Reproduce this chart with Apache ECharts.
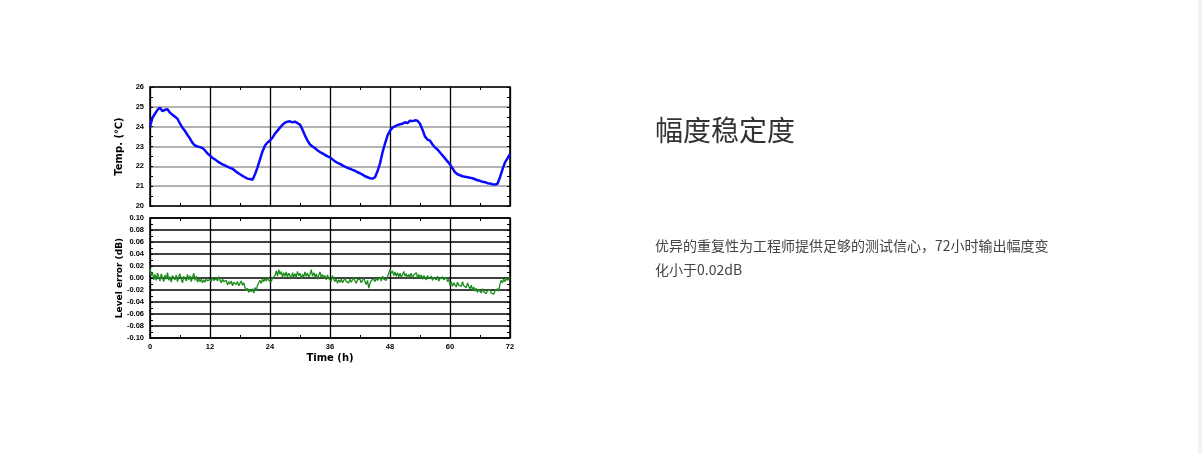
<!DOCTYPE html>
<html>
<head>
<meta charset="utf-8">
<script src="https://cdn.jsdelivr.net/npm/echarts@6/dist/echarts.min.js"></script>
<style>
html,body{margin:0;padding:0;background:#fff;}
#chart{width:1202px;height:454px;}
</style>
</head>
<body>
<div id="chart"></div>
<script>
// ---- data ----
const titleText = '幅度稳定度';
const descLines = ['优异的重复性为工程师提供足够的测试信心，72小时输出幅度变', '化小于0.02dB'];
const timeTicks = [0, 12, 24, 36, 48, 60, 72];
const tempTicks = [20, 21, 22, 23, 24, 25, 26];
const errTicks = [-0.10, -0.08, -0.06, -0.04, -0.02, 0.00, 0.02, 0.04, 0.06, 0.08, 0.10];
const tempStepH = 0.5;
const tempValues = [
  24.00, 24.45, 24.65, 24.85, 24.95, 24.78, 24.85, 24.88, 24.70, 24.60,
  24.50, 24.40, 24.15, 23.95, 23.78, 23.58, 23.40, 23.18, 23.05, 23.00,
  22.97, 22.92, 22.80, 22.65, 22.55, 22.42, 22.35, 22.25, 22.17, 22.10,
  22.05, 21.98, 21.92, 21.88, 21.78, 21.68, 21.60, 21.52, 21.45, 21.38,
  21.36, 21.32, 21.60, 21.95, 22.35, 22.75, 23.05, 23.20, 23.30, 23.45,
  23.65, 23.80, 23.95, 24.10, 24.20, 24.25, 24.27, 24.22, 24.25, 24.18,
  24.10, 23.85, 23.55, 23.30, 23.10, 23.00, 22.92, 22.80, 22.72, 22.65,
  22.58, 22.50, 22.45, 22.35, 22.25, 22.18, 22.12, 22.05, 21.98, 21.92,
  21.88, 21.82, 21.78, 21.70, 21.65, 21.58, 21.50, 21.45, 21.40, 21.38,
  21.45, 21.75, 22.15, 22.70, 23.15, 23.55, 23.80, 23.95, 24.02, 24.08,
  24.12, 24.15, 24.22, 24.18, 24.30, 24.28, 24.32, 24.30, 24.15, 23.85,
  23.50, 23.35, 23.30, 23.10, 22.95, 22.85, 22.70, 22.55, 22.40, 22.25,
  22.10, 21.90, 21.70, 21.60, 21.55, 21.50, 21.48, 21.45, 21.42, 21.40,
  21.35, 21.30, 21.27, 21.22, 21.20, 21.15, 21.13, 21.10, 21.08, 21.12,
  21.45, 21.85, 22.20, 22.40, 22.62
];
const errStepH = 0.25;
const errValues = [
  0.016, 0.004, 0.009, -0.003,   0.006, -0.004, 0.008, 0.001,
  -0.005, 0.007, 0.000, -0.006,  0.005, -0.002, 0.009, -0.004,
  0.002, -0.007, 0.004, 0.006,   -0.003, 0.005, -0.006, 0.002,
  0.007, -0.002, -0.008, 0.003,  0.000, -0.005, 0.006, -0.003,
  0.004, -0.006, 0.001, 0.008,   -0.004, 0.003, -0.007, -0.001,
  -0.006, -0.002, -0.008, -0.003, -0.007, -0.001, -0.005, -0.004,
  -0.002, -0.006, 0.001, -0.004, -0.007, -0.001, -0.005, 0.002,
  -0.004, -0.008, -0.002, -0.006, -0.009, -0.004, -0.012, -0.006,
  -0.010, -0.005, -0.013, -0.007, -0.004, -0.011, -0.006, -0.013,
  -0.009, -0.005, -0.012, -0.008, -0.016, -0.021, -0.017, -0.024,
  -0.019, -0.023, -0.018, -0.025, -0.016, -0.021, -0.012, -0.008,
  -0.004, -0.009, -0.002, -0.006, -0.001, -0.005, 0.001, -0.004,
  -0.002, -0.006, 0.000, -0.003, 0.004, 0.012, 0.003, 0.014,
  0.006, 0.011, 0.001, 0.009,    0.003, 0.010, 0.002, 0.008,
  0.004, -0.001, 0.009, 0.002,   0.007, 0.001, 0.011, 0.004,
  0.008, -0.001, 0.006, 0.002,   0.010, 0.003, 0.008, 0.001,
  0.006, 0.014, 0.003, 0.009,    0.002, 0.007, -0.002, 0.005,
  0.010, 0.001, 0.006, 0.000,    0.004, -0.003, 0.005, -0.001,
  0.002, -0.005, 0.004, -0.002,  -0.006, -0.001, -0.009, -0.003,
  -0.007, -0.002, -0.008, -0.004, 0.000, -0.006, -0.003, -0.008,
  -0.002, -0.007, -0.004, 0.001, -0.005, -0.009, -0.003, -0.006,
  -0.002, -0.008, -0.004, 0.000, -0.006, -0.011, -0.004, -0.017,
  -0.009, -0.004, -0.007, -0.002, -0.006, 0.000, -0.004, -0.001,
  0.001, -0.005, 0.003, -0.002,  0.000, -0.004, 0.002, 0.004,
  0.014, 0.008, 0.012, 0.004,    0.010, 0.003, 0.009, 0.002,
  0.008, 0.001, 0.006, 0.011,    0.003, 0.007, 0.000, 0.006,
  0.002, 0.008, -0.001, 0.005,   0.004, 0.009, 0.001, 0.006,
  0.000, 0.005, -0.002, 0.004,   0.001, -0.003, 0.004, -0.001,
  -0.002, 0.003, -0.004, 0.001,  0.002, -0.003, 0.003, -0.005,
  -0.001, -0.004, 0.002, -0.003, -0.003, 0.001, -0.006, -0.002,
  -0.012, -0.006, -0.014, -0.008, -0.011, -0.015, -0.007, -0.012,
  -0.009, -0.014, -0.006, -0.013, -0.010, -0.016, -0.008, -0.014,
  -0.018, -0.012, -0.020, -0.015, -0.022, -0.017, -0.024, -0.019,
  -0.021, -0.025, -0.018, -0.023, -0.020, -0.026, -0.021, -0.024,
  -0.019, -0.025, -0.022, -0.027, -0.021, -0.024, -0.018, -0.022,
  -0.010, -0.004, -0.008, -0.002, -0.006, 0.001, -0.004, -0.001,
  0.002
];

// ---- build ----
const tempData = tempValues.map((v, i) => [i * tempStepH, v]);
const errData = errValues.map((v, i) => [i * errStepH, v]);

const tickFont = { fontFamily: 'Liberation Sans', fontWeight: 'bold', fontSize: 7.5, color: '#000' };
const black = '#000';

function xAx(gridIndex, position, showLabel, name) {
  return {
    type: 'value', gridIndex, position,
    min: timeTicks[0], max: timeTicks[timeTicks.length - 1],
    interval: timeTicks[1] - timeTicks[0],
    axisLine: { show: true, onZero: false, lineStyle: { color: black, width: 1.5 } },
    axisTick: { show: true, inside: true, length: 3, lineStyle: { color: black, width: 1 } },
    minorTick: { show: true, splitNumber: 2, length: 3, lineStyle: { color: black, width: 1 } },
    axisLabel: Object.assign({ show: showLabel, margin: 5 }, tickFont),
    splitLine: { show: position === 'bottom', lineStyle: { color: black, width: 1.3 } },
    name: name || '',
    nameLocation: 'middle',
    nameGap: 15,
    nameMoveOverlap: false,
    nameTextStyle: { fontFamily: 'DejaVu Sans', fontWeight: 'bold', fontSize: 10, color: '#000' }
  };
}
function yAx(gridIndex, position, ticks, showLabel, splitColor, digits, name, nameSize) {
  return {
    type: 'value', gridIndex, position,
    min: ticks[0], max: ticks[ticks.length - 1],
    interval: +(ticks[1] - ticks[0]).toFixed(4),
    axisLine: { show: true, onZero: false, lineStyle: { color: black, width: 1.5 } },
    axisTick: { show: true, inside: true, length: 3, lineStyle: { color: black, width: 1 } },
    minorTick: { show: true, splitNumber: 2, length: 3, lineStyle: { color: black, width: 1 } },
    axisLabel: Object.assign({ show: showLabel, margin: 6, formatter: v => v.toFixed(digits) }, tickFont),
    splitLine: { show: position === 'left', lineStyle: { color: splitColor, width: 1.5 } },
    name: name || '',
    nameLocation: 'middle',
    nameGap: 26,
    nameMoveOverlap: false,
    nameTextStyle: { fontFamily: 'DejaVu Sans', fontWeight: 'bold', fontSize: nameSize || 9, color: '#000' }
  };
}

const chart = echarts.init(document.getElementById('chart'), null, { renderer: 'canvas' });
chart.setOption({
  backgroundColor: '#fff',
  animation: false,
  grid: [
    { left: 150, top: 87, width: 360, height: 119, containLabel: false },
    { left: 150, top: 218, width: 360, height: 120, containLabel: false }
  ],
  xAxis: [
    xAx(0, 'bottom', false),
    xAx(0, 'top', false),
    xAx(1, 'bottom', true, 'Time (h)'),
    xAx(1, 'top', false)
  ],
  yAxis: [
    yAx(0, 'left', tempTicks, true, '#999', 0, 'Temp. (℃)', 10),
    yAx(0, 'right', tempTicks, false, '#999', 0),
    yAx(1, 'left', errTicks, true, '#000', 2, 'Level error (dB)', 9),
    yAx(1, 'right', errTicks, false, '#000', 2)
  ],
  series: [
    {
      type: 'line', xAxisIndex: 0, yAxisIndex: 0, data: tempData,
      showSymbol: false, smooth: false,
      lineStyle: { color: '#0a0aff', width: 2.5 }
    },
    {
      type: 'line', xAxisIndex: 2, yAxisIndex: 2, data: errData,
      showSymbol: false, smooth: false,
      lineStyle: { color: '#1a8c1a', width: 1.3 }
    }
  ],
  graphic: [
    { type: 'rect', shape: { x: 1198, y: 0, width: 4, height: 454 }, style: { fill: '#f3f3f3' }, silent: true },
    {
      type: 'text', x: 655, y: 130,
      style: { text: titleText, fontSize: 28, fontFamily: 'Noto Sans CJK SC', fill: '#333', verticalAlign: 'middle', align: 'left' }
    },
    {
      type: 'text', x: 655, y: 234,
      style: { text: descLines.join('\n'), fontSize: 14, lineHeight: 24, fontFamily: 'Noto Sans CJK SC', fill: '#444', verticalAlign: 'top', align: 'left' }
    }
  ]
});
</script>
</body>
</html>
